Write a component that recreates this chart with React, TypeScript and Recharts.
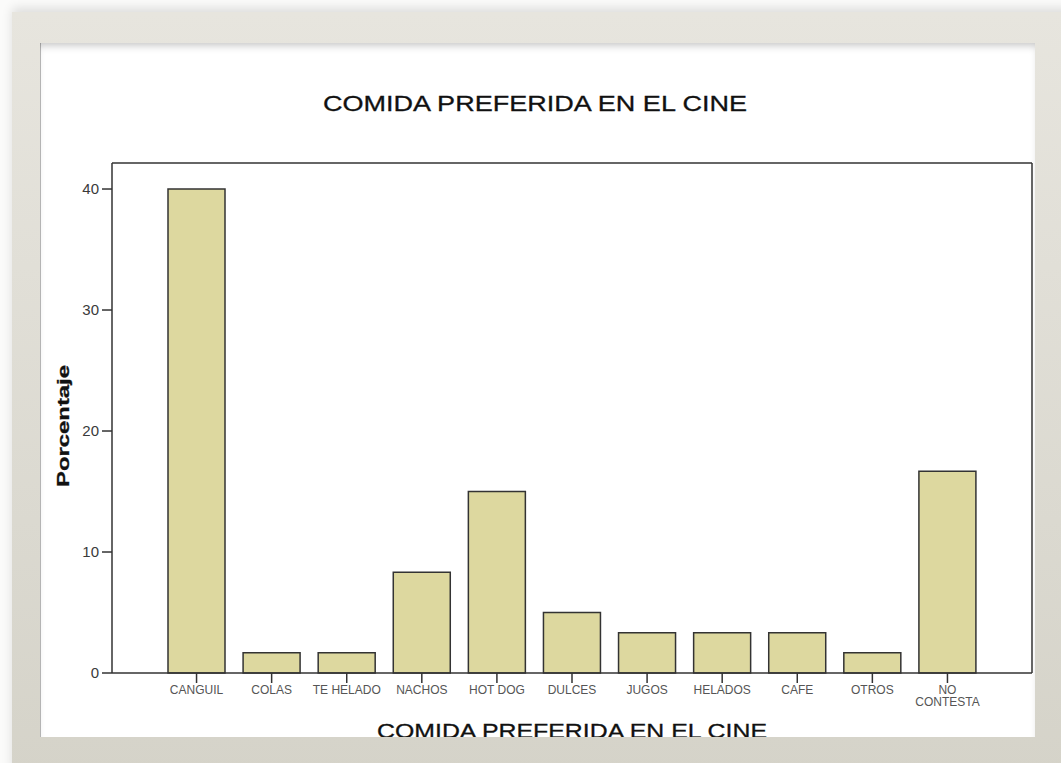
import { Bar, BarChart, XAxis, YAxis } from "recharts"

const categories = [
  "CANGUIL",
  "COLAS",
  "TE HELADO",
  "NACHOS",
  "HOT DOG",
  "DULCES",
  "JUGOS",
  "HELADOS",
  "CAFE",
  "OTROS",
  "NO\nCONTESTA",
]

const porcentaje = [40, 1.67, 1.67, 8.33, 15, 5, 3.33, 3.33, 3.33, 1.67, 16.67]

const yTicks = [0, 10, 20, 30, 40]

const data = categories.map((name, i) => ({ name, Porcentaje: porcentaje[i] }))

function CategoryTick(props: any) {
  const { x, y, payload } = props
  const lines = String(payload.value).split("\n")
  return (
    <text x={x} y={y} textAnchor="middle" fill="#555" fontSize={12} fontFamily="Liberation Sans, Arial, sans-serif">
      {lines.map((l, i) => (
        <tspan key={i} x={x} dy={i === 0 ? "0.71em" : 12}>
          {l}
        </tspan>
      ))}
    </text>
  )
}

export default function App() {
  return (
    <div style={{ position: "absolute", left: 0, top: 0, width: 1061, height: 763, background: "#fbfbfa", overflow: "hidden" }}>
      <div
        style={{
          position: "absolute",
          left: 12,
          top: 12,
          width: 1061,
          height: 763,
          background: "linear-gradient(#e7e5de, #d5d3c9)",
          boxShadow: "0 -4px 10px rgba(0,0,0,0.12)",
        }}
      />
      <div
        style={{
          position: "absolute",
          left: 40,
          top: 43,
          width: 995,
          height: 694,
          background: "#ffffff",
          boxShadow: "inset 0 6px 8px -4px rgba(0,0,0,0.25), inset 1px 0 0 #bbb",
        }}
      />
      <div style={{ position: "absolute", left: 0, top: 0 }}>
        <BarChart width={1061} height={763} data={data} margin={{ top: 162, right: 28, bottom: 0, left: 52 }} barSize={57}>
          <XAxis
            dataKey="name"
            height={90}
            padding={{ left: 47, right: 47 }}
            stroke="#333"
            strokeWidth={1.5}
            tickSize={10}
            tickMargin={2}
            interval={0}
            tick={<CategoryTick />}
          />
          <XAxis xAxisId="top" orientation="top" dataKey="name" height={1} stroke="#333" strokeWidth={1.5} tick={false} tickLine={false} />
          <YAxis
            domain={[0, 42.15]}
            ticks={yTicks}
            width={60}
            stroke="#333"
            strokeWidth={1.5}
            tickSize={10}
            tickMargin={3}
            tick={{ fill: "#3a3a3a", fontSize: 15, fontFamily: "Liberation Sans, Arial, sans-serif" }}
          />
          <YAxis yAxisId="right" orientation="right" domain={[0, 42.15]} width={1} stroke="#333" strokeWidth={1.5} tick={false} tickLine={false} />
          <Bar dataKey="Porcentaje" fill="#ddd89f" stroke="#333" strokeWidth={1.5} isAnimationActive={false} />
        </BarChart>
      </div>
      <svg width={1061} height={763} style={{ position: "absolute", left: 0, top: 0, pointerEvents: "none" }}>
        <defs>
          <clipPath id="panel">
            <rect x={40} y={43} width={995} height={694} />
          </clipPath>
        </defs>
        <g clipPath="url(#panel)" fontFamily="Liberation Sans, Arial, sans-serif" fill="#111" stroke="#111" strokeWidth={0.3}>
          <text x={535} y={111} textAnchor="middle" fontSize={22} textLength={424} lengthAdjust="spacingAndGlyphs">
            COMIDA PREFERIDA EN EL CINE
          </text>
          <text x={572} y={738} textAnchor="middle" fontSize={21} textLength={390} lengthAdjust="spacingAndGlyphs">
            COMIDA PREFERIDA EN EL CINE
          </text>
          <text
            x={69}
            y={426}
            textAnchor="middle"
            fontSize={17}
            fontWeight="bold"
            textLength={122}
            lengthAdjust="spacingAndGlyphs"
            transform="rotate(-90, 69, 426)"
          >
            Porcentaje
          </text>
        </g>
      </svg>
    </div>
  )
}
